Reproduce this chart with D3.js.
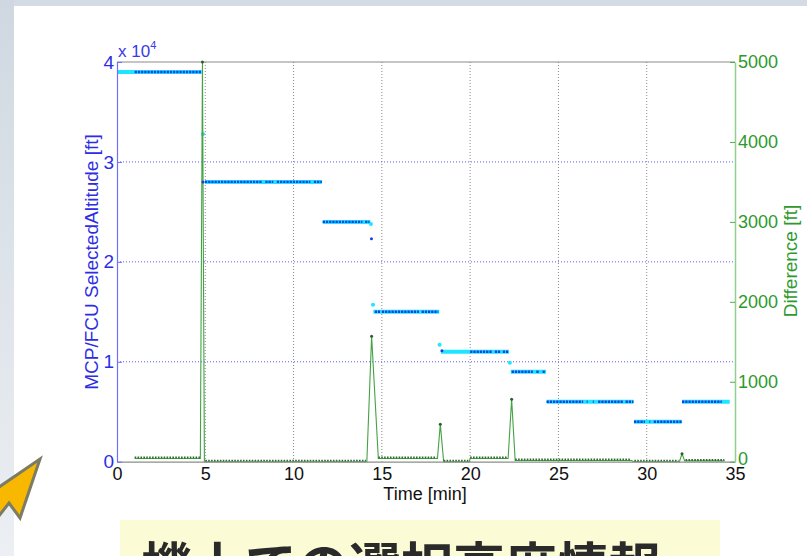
<!DOCTYPE html>
<html><head><meta charset="utf-8">
<script src="https://cdn.jsdelivr.net/npm/d3@7"></script>
<style>html,body{margin:0;padding:0;background:#fff;overflow:hidden}svg{display:block}</style>
</head><body><svg id="c" width="807" height="556"></svg>
<script>
// ---------- data ----------
const xTicks = [0, 5, 10, 15, 20, 25, 30, 35];
const altTicks = [0, 10000, 20000, 30000, 40000];
const diffTicks = [0, 1000, 2000, 3000, 4000, 5000];

// FCU selected altitude (cyan) plateaus
const fcuStart = [0, 4.98, 11.65, 14.52, 18.35, 22.3, 24.33, 29.28, 32.0];
const fcuEnd   = [4.8, 11.6, 14.35, 18.25, 22.2, 24.3, 29.25, 31.98, 34.7];
const fcuAlt   = [39000, 28000, 24000, 15000, 11000, 9000, 6000, 4000, 6000];
// FCU transitional samples
const fcuPtT = [4.87, 14.38, 14.5, 18.27, 22.25];
const fcuPtA = [32800, 23800, 15700, 11700, 9900];

// MCP selected altitude (blue) runs of samples
const mcpStart = [1.0, 4.98, 8.4, 9.05, 11.15, 11.65, 14.05, 14.6, 15.0, 17.25, 20.0, 21.4, 21.85, 22.35, 23.75, 24.1, 24.33, 26.6, 26.95, 27.25, 28.8, 29.28, 30.15, 30.4, 32.0];
const mcpEnd   = [4.8, 8.2, 8.85, 10.95, 11.6, 13.9, 14.3, 14.9, 17.1, 18.2, 21.25, 21.7, 22.15, 23.55, 23.9, 24.25, 26.4, 26.65, 27.0, 28.65, 29.25, 29.9, 30.2, 32.0, 34.25];
const mcpAlt   = [39000, 28000, 28000, 28000, 28000, 24000, 24000, 15000, 15000, 15000, 11000, 11000, 11000, 9000, 9000, 9000, 6000, 6000, 6000, 6000, 6000, 4000, 4000, 4000, 6000];
// MCP isolated samples
const mcpPtT = [4.87, 14.41, 18.4];
const mcpPtA = [28000, 22300, 11100];

// Difference (green) line
const diffT = [1.0, 4.72, 4.84, 4.95, 5.0, 14.15, 14.42, 14.8, 18.15, 18.31, 18.5, 19.95, 20.0, 22.15, 22.35, 22.55, 29.15, 29.25, 31.85, 32.0, 32.15, 34.4];
const diffV = [40, 40, 5000, 0, 0, 0, 1570, 40, 40, 470, 0, 0, 40, 40, 780, 15, 15, 0, 0, 100, 10, 10];
// Difference sample runs (dotted markers)
const dRunStart = [1.0, 5.0, 14.8, 18.5, 20.0, 22.55, 29.3, 32.2];
const dRunEnd   = [4.7, 14.1, 18.1, 19.9, 22.1, 29.1, 31.8, 34.4];
const dRunVal   = [40, 0, 40, 0, 40, 15, 0, 10];
const dPeakT = [4.84, 14.42, 18.31, 22.35, 32.0];
const dPeakV = [5000, 1570, 470, 780, 100];

// ---------- drawing ----------
const svg = d3.select("#c");
const defs = svg.append("defs");
const lg = defs.append("linearGradient").attr("id","lg").attr("x1",0).attr("y1",0).attr("x2",0).attr("y2",1);
lg.append("stop").attr("offset","0").attr("stop-color","#cfd8e1");
lg.append("stop").attr("offset","1").attr("stop-color","#eceff3");

svg.append("rect").attr("width",807).attr("height",556).attr("fill","#d3dbe4");
svg.append("rect").attr("x",0).attr("y",0).attr("width",14).attr("height",556).attr("fill","url(#lg)");
svg.append("rect").attr("x",14).attr("y",6).attr("width",793).attr("height",550).attr("fill","#ffffff");

const x = d3.scaleLinear().domain([0,35]).range([117,735]);
const yL = d3.scaleLinear().domain([0,40000]).range([461.7,62]);
const yR = d3.scaleLinear().domain([0,5000]).range([461.7,62]);

const font = "'Liberation Sans', Arial, sans-serif";

// grid
svg.append("g").selectAll("line").data(xTicks.slice(1,-1)).join("line")
  .attr("x1",d=>x(d)).attr("x2",d=>x(d)).attr("y1",62).attr("y2",461.7)
  .attr("stroke","#8a8a8a").attr("stroke-width",1).attr("stroke-dasharray","1 2");
svg.append("g").selectAll("line").data(altTicks.slice(1,-1)).join("line")
  .attr("x1",117).attr("x2",735).attr("y1",d=>yL(d)).attr("y2",d=>yL(d))
  .attr("stroke","#5a5aff").attr("stroke-width",1).attr("stroke-dasharray","1 2");

// frame top
svg.append("line").attr("x1",117).attr("x2",735).attr("y1",62).attr("y2",62).attr("stroke","#8c8c8c").attr("stroke-width",1.2);

// FCU cyan
svg.append("g").selectAll("line").data(d3.range(fcuStart.length)).join("line")
  .attr("x1",i=>x(fcuStart[i])).attr("x2",i=>x(fcuEnd[i]))
  .attr("y1",i=>yL(fcuAlt[i])).attr("y2",i=>yL(fcuAlt[i]))
  .attr("stroke","#1ee6ff").attr("stroke-width",4);
svg.append("g").selectAll("circle").data(d3.range(fcuPtT.length)).join("circle")
  .attr("cx",i=>x(fcuPtT[i])).attr("cy",i=>yL(fcuPtA[i])).attr("r",2)
  .attr("fill","#1ee6ff");

// Green difference line
const line = d3.line().x(i=>x(diffT[i])).y(i=>yR(diffV[i]));
svg.append("path").attr("d",line(d3.range(diffT.length)))
  .attr("fill","none").attr("stroke","#44a244").attr("stroke-width",1.1);
svg.append("g").selectAll("line").data(d3.range(dRunStart.length)).join("line")
  .attr("x1",i=>x(dRunStart[i])).attr("x2",i=>x(dRunEnd[i]))
  .attr("y1",i=>yR(dRunVal[i])-1).attr("y2",i=>yR(dRunVal[i])-1)
  .attr("stroke","#2b6e2b").attr("stroke-width",2).attr("stroke-dasharray","1.6 1.3");
svg.append("g").selectAll("circle").data(d3.range(dPeakT.length)).join("circle")
  .attr("cx",i=>x(dPeakT[i])).attr("cy",i=>yR(dPeakV[i])).attr("r",1.5)
  .attr("fill","#2b5e2b");

// MCP blue
svg.append("g").selectAll("line").data(d3.range(mcpStart.length)).join("line")
  .attr("x1",i=>x(mcpStart[i])).attr("x2",i=>x(mcpEnd[i]))
  .attr("y1",i=>yL(mcpAlt[i])).attr("y2",i=>yL(mcpAlt[i]))
  .attr("stroke","#1c3ae4").attr("stroke-width",2.4).attr("stroke-dasharray","2.3 0.9");
svg.append("g").selectAll("circle").data(d3.range(mcpPtT.length)).join("circle")
  .attr("cx",i=>x(mcpPtT[i])).attr("cy",i=>yL(mcpPtA[i])).attr("r",1.5)
  .attr("fill","#1c3ae4");

// axes
const gx = svg.append("g").attr("transform","translate(0,461.7)")
  .call(d3.axisBottom(x).tickValues(xTicks).tickSize(0).tickPadding(6));
gx.select(".domain").attr("stroke","#8c8c8c").attr("stroke-width",1.2);
gx.selectAll("text").attr("font-family",font).attr("font-size",18).attr("fill","#111");

const gl = svg.append("g").attr("transform","translate(117,0)")
  .call(d3.axisLeft(yL).tickValues(altTicks).tickFormat(d=>d/10000).tickSizeInner(-5).tickSizeOuter(0).tickPadding(3));
gl.select(".domain").attr("stroke","#6f6fff").attr("stroke-width",1.2);
gl.selectAll(".tick line").attr("stroke","#6f6fff");
gl.selectAll("text").attr("font-family",font).attr("font-size",19).attr("fill","#2d2de6");

const gr = svg.append("g").attr("transform","translate(735,0)")
  .call(d3.axisRight(yR).tickValues(diffTicks).tickFormat(d3.format("d")).tickSizeInner(-5).tickSizeOuter(0).tickPadding(3));
gr.select(".domain").attr("stroke","#8fd08f").attr("stroke-width",1.5);
gr.selectAll(".tick line").attr("stroke","#58a858");
gr.selectAll("text").attr("font-family",font).attr("font-size",18).attr("fill","#2e9a2e");
gr.selectAll(".tick").filter(d=>d===0).select("text").attr("dy","0.18em");

// exponent label
const ex = svg.append("text").attr("x",118).attr("y",57).attr("font-family",font).attr("font-size",17).attr("fill","#3a3ae6");
ex.append("tspan").text("x 10");
ex.append("tspan").attr("font-size",11).attr("dy",-8).text("4");

// axis titles
svg.append("text").attr("x",425).attr("y",500).attr("text-anchor","middle")
  .attr("font-family",font).attr("font-size",18).attr("fill","#111").text("Time [min]");
svg.append("text").attr("transform","translate(98,262) rotate(-90)").attr("text-anchor","middle")
  .attr("font-family",font).attr("font-size",19).attr("fill","#2d2de6").text("MCP/FCU SelectedAltitude [ft]");
svg.append("text").attr("transform","translate(797,261) rotate(-90)").attr("text-anchor","middle")
  .attr("font-family",font).attr("font-size",19).attr("fill","#2e9a2e").text("Difference [ft]");

// yellow caption box
svg.append("rect").attr("x",120).attr("y",520).attr("width",600).attr("height",40).attr("fill","#fbfbd5");
svg.append("text").attr("x",141).attr("y",586)
  .attr("font-family","'Noto Sans CJK JP', sans-serif").attr("font-weight","bold").attr("font-size",52)
  .attr("fill","#2a2a2a").text("機上での選択高度情報");

// orange arrow
const arrow = [[40,459],[20,518],[9,503],[-34,558],[-60,558],[-7,492],[-20,500]];
svg.append("path").attr("d","M"+arrow.map(p=>p.join(",")).join("L")+"Z")
  .attr("fill","#f8b800").attr("stroke","#7c7c64").attr("stroke-width",3).attr("stroke-linejoin","miter");
</script></body></html>
